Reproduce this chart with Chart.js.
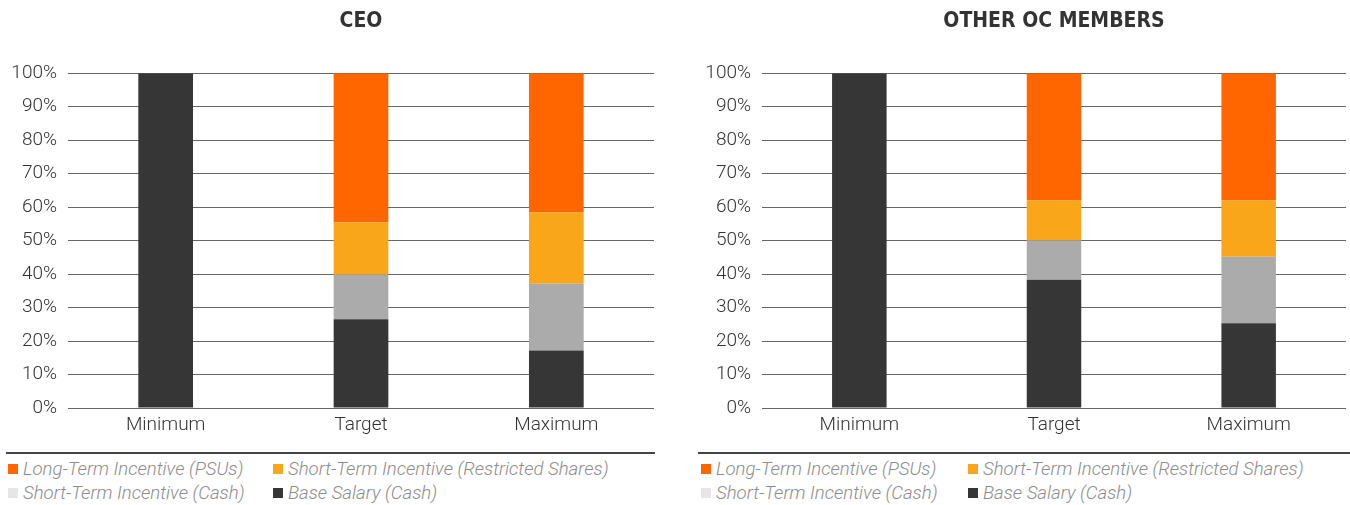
<!DOCTYPE html>
<html>
<head>
<meta charset="utf-8">
<script src="https://cdn.jsdelivr.net/npm/chart.js@4/dist/chart.umd.min.js"></script>
<style>
  html, body { margin: 0; padding: 0; background: #fff; width: 1350px; height: 505px; overflow: hidden; position: relative; }
  .wrap { position: absolute; top: 0; }
  .legend { position: absolute; top: 452px; height: 53px; border-top: 2px solid #444; }
  .item { position: absolute; font: italic 300 18.6px "Roboto", "Liberation Sans", sans-serif; color: #8c8c8c; white-space: nowrap; line-height: 22px; }
  .sw { position: absolute; width: 10px; height: 10px; top: 6px; left: 0; }
  .item span.t { position: absolute; left: 15px; top: 0; }
</style>
</head>
<body>
<div class="wrap" style="left:0px"><canvas id="c1" width="660" height="446"></canvas></div>
<div class="wrap" style="left:694px"><canvas id="c2" width="656" height="446"></canvas></div>
<div class="legend" id="lg1" style="left:6px; width:649px;"></div>
<div class="legend" id="lg2" style="left:698px; width:652px;"></div>
<script>
// ---- data ----
const categories = ['Minimum', 'Target', 'Maximum'];
const seriesNames = ['Base Salary (Cash)', 'Short-Term Incentive (Cash)', 'Short-Term Incentive (Restricted Shares)', 'Long-Term Incentive (PSUs)'];
const yTickLabels = ['0%', '10%', '20%', '30%', '40%', '50%', '60%', '70%', '80%', '90%', '100%'];
const chartTitles = ['CEO', 'OTHER OC MEMBERS'];

const ceoBase      = [100, 26.5, 17.2];
const ceoStiCash   = [0, 13.3, 19.9];
const ceoStiShares = [0, 15.6, 21.3];
const ceoLti       = [0, 44.6, 41.6];

const ocBase       = [100, 38.3, 25.3];
const ocStiCash    = [0, 11.7, 19.9];
const ocStiShares  = [0, 12.0, 16.8];
const ocLti        = [0, 38.0, 38.0];

// ---- styles ----
const barColors = ['#363636', '#ababab', '#f9a61b', '#ff6600'];
const legendColors = ['#363636', '#e6e6e6', '#f9a61b', '#ff6600'];
const tickFont = { family: "'Roboto', 'Liberation Sans', sans-serif", size: 19, weight: 300 };

function makeChart(id, title, series, padRight) {
  const datasets = series.map((vals, i) => ({
    label: seriesNames[i],
    data: vals,
    backgroundColor: barColors[i],
    borderWidth: 0,
    categoryPercentage: 1,
    barPercentage: 0.28
  }));
  return new Chart(document.getElementById(id), {
    type: 'bar',
    data: { labels: categories, datasets },
    options: {
      responsive: false,
      animation: false,
      layout: { padding: { left: 0, right: padRight, top: 1, bottom: 0 } },
      plugins: {
        legend: { display: false },
        tooltip: { enabled: false },
        title: {
          display: true,
          text: title,
          fullSize: false,
          color: '#333',
          font: { family: "'Liberation Sans Narrow', 'DejaVu Sans Condensed', sans-serif", size: 21, weight: 'bold', lineHeight: 1.2 },
          padding: { top: 8, bottom: 39 }
        }
      },
      scales: {
        x: {
          stacked: true,
          grid: { display: false, drawTicks: false },
          border: { display: false },
          ticks: { color: '#333', padding: 6, font: tickFont },
          afterFit: (s) => { s.height = 38; }
        },
        y: {
          stacked: true,
          min: 0, max: 100,
          ticks: {
            stepSize: 10,
            color: '#333',
            padding: 11,
            font: tickFont,
            callback: (v) => yTickLabels[Math.round(v / 10)]
          },
          grid: { color: '#666', lineWidth: 1, drawTicks: false },
          border: { display: false },
          afterFit: (s) => { s.width = 68; }
        }
      }
    }
  });
}

makeChart('c1', chartTitles[0], [ceoBase, ceoStiCash, ceoStiShares, ceoLti], 6);
makeChart('c2', chartTitles[1], [ocBase, ocStiCash, ocStiShares, ocLti], 4);

// ---- legends (real text, generated from series names) ----
const legendOrder = [3, 2, 1, 0];
function buildLegend(id, col1, col2) {
  const el = document.getElementById(id);
  legendOrder.forEach((si, k) => {
    const row = Math.floor(k / 2), col = k % 2;
    const d = document.createElement('div');
    d.className = 'item';
    d.style.left = (col === 0 ? col1 : col2) + 'px';
    d.style.top = (4 + row * 24) + 'px';
    const sw = document.createElement('div');
    sw.className = 'sw';
    sw.style.background = legendColors[si];
    const t = document.createElement('span');
    t.className = 't';
    t.textContent = seriesNames[si];
    d.appendChild(sw); d.appendChild(t);
    el.appendChild(d);
  });
}
buildLegend('lg1', 2, 267);
buildLegend('lg2', 3, 270);
</script>
</body>
</html>
